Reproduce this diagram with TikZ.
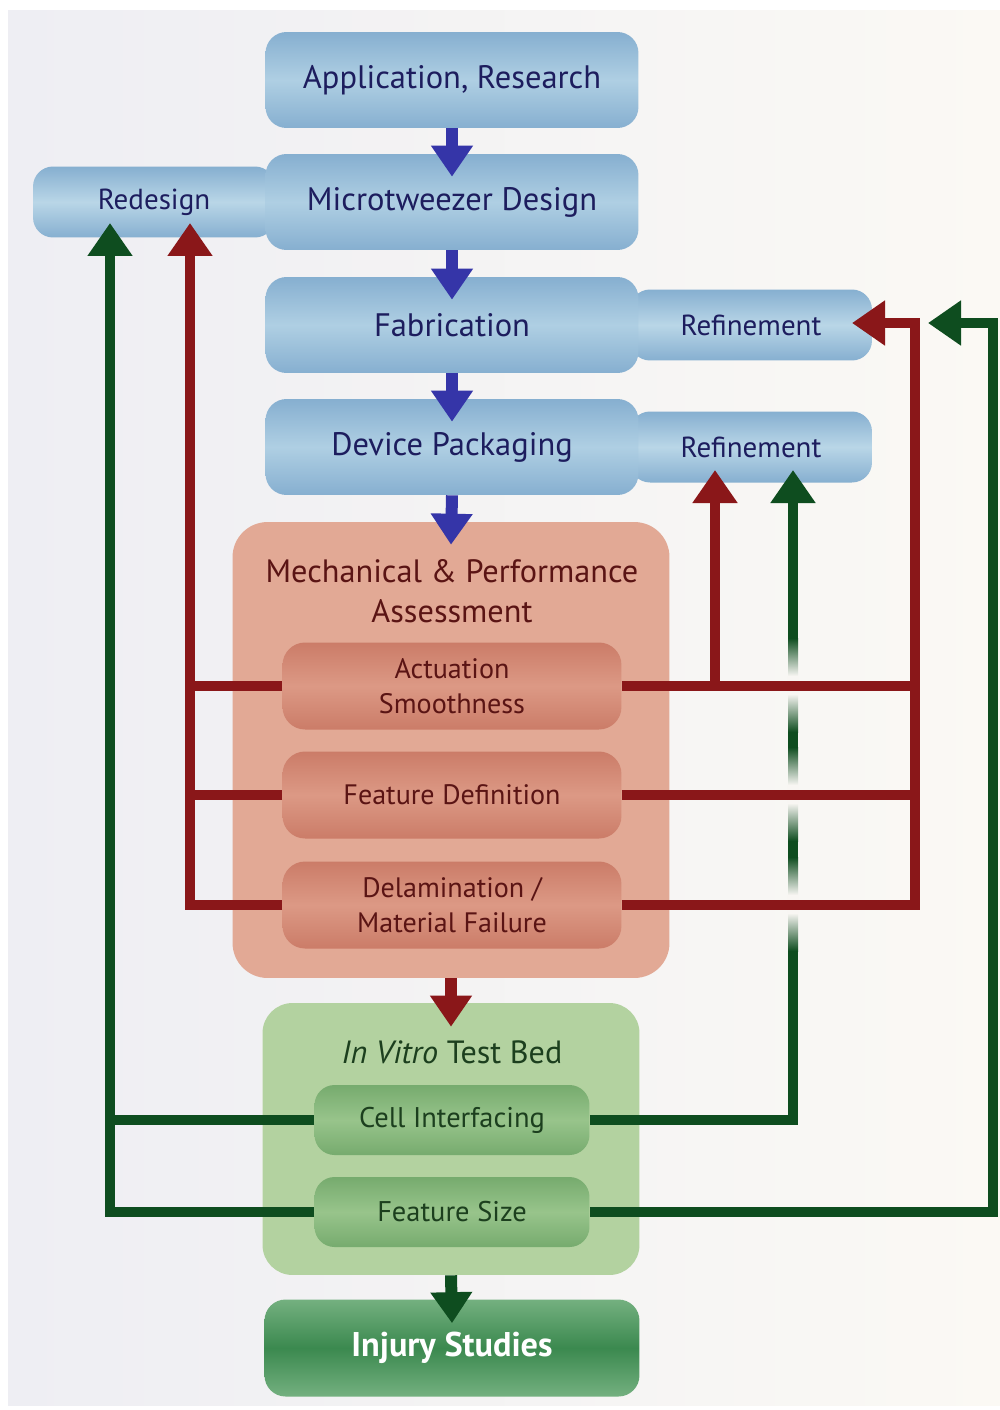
\documentclass[tikz,border=0pt]{standalone}
\usepackage{fontspec}
\setmainfont{PT Sans}
\usepackage{tikz}
\usetikzlibrary{arrows.meta,calc}
\definecolor{bgleft}{HTML}{EEEEF3}
\definecolor{bgright}{HTML}{FBF9F4}
\definecolor{bgmid}{HTML}{F8F6F3}
\definecolor{bluefill}{HTML}{AFCFE3}
\definecolor{blueedge}{HTML}{86AFD0}
\definecolor{sidefill}{HTML}{B9D6E7}
\definecolor{bluetext}{HTML}{1D1D5E}
\definecolor{bluearrow}{HTML}{3535A8}
\definecolor{orangefill}{HTML}{E2A995}
\definecolor{orangesub}{HTML}{DC9985}
\definecolor{orangeedge}{HTML}{CB7C68}
\definecolor{redtext}{HTML}{5A1414}
\definecolor{redline}{HTML}{8A1719}
\definecolor{greenfill}{HTML}{B3D2A0}
\definecolor{greensub}{HTML}{98C48B}
\definecolor{greenedge}{HTML}{76AB6E}
\definecolor{greentext}{HTML}{1C3F1E}
\definecolor{greenline}{HTML}{0E4D1F}
\definecolor{greendark}{HTML}{3B894F}
\definecolor{greenlight}{HTML}{74B07F}
\tikzset{
  stage/.style={rounded corners=0.42cm, minimum width=7.46cm, minimum height=1.92cm,
    top color=blueedge, bottom color=blueedge, middle color=bluefill,
    text=bluetext, font=\fontsize{18.5}{22}\selectfont},
  side/.style={rounded corners=0.4cm, minimum width=4.84cm, minimum height=1.42cm,
    top color=blueedge, bottom color=blueedge, middle color=sidefill,
    text=bluetext, font=\fontsize{16.5}{20}\selectfont},
  assess/.style={rounded corners=0.7cm, minimum width=8.74cm, minimum height=9.12cm,
    fill=orangefill},
  otitle/.style={text=redtext, align=center, font=\fontsize{18.4}{22.8}\selectfont},
  osub/.style={rounded corners=0.45cm, minimum width=6.78cm, minimum height=1.74cm,
    top color=orangeedge, bottom color=orangeedge, middle color=orangesub,
    text=redtext, align=center, font=\fontsize{16}{20}\selectfont},
  testbed/.style={rounded corners=0.6cm, minimum width=7.54cm, minimum height=5.44cm,
    fill=greenfill},
  gtitle/.style={text=greentext, font=\fontsize{18.3}{22}\selectfont},
  gsub/.style={rounded corners=0.4cm, minimum width=5.5cm, minimum height=1.4cm,
    top color=greenedge, bottom color=greenedge, middle color=greensub,
    text=greentext, font=\fontsize{16.2}{20}\selectfont},
  goal/.style={rounded corners=0.42cm, minimum width=7.5cm, minimum height=1.94cm,
    top color=greenlight, bottom color=greenlight, middle color=greendark,
    text=white, font=\fontsize{19.5}{23}\selectfont\bfseries},
  flow/.style={line width=0.24cm, -{Triangle[width=0.8cm, length=0.62cm]}},
  redfb/.style={draw=redline, line width=0.2cm},
  greenfb/.style={draw=greenline, line width=0.2cm},
  fbtip/.style={-{Triangle[width=0.86cm, length=0.66cm]}}
}

\begin{document}
\begin{tikzpicture}[x=0.02cm, y=-0.02cm]
  \useasboundingbox (0,0) rectangle (1000,1410);
  \fill[white] (0,0) rectangle (1000,1410);
  \shade[left color=bgleft, right color=bgright] (8,10) rectangle (1000,1405);

  % main chain
  \node[stage] (app) at (452,80) {Application, Research};
  \node[side] (redes) at (154,202) {Redesign};
  \node[stage] (des) at (452,202) {Microtweezer Design};
  \node[side] (ref1) at (751,325) {Refinement};
  \node[stage] (fab) at (452,325) {Fabrication};
  \node[side] (ref2) at (751,447) {Refinement};
  \node[stage] (pack) at (452,447) {Device Packaging};

  \node[assess] (mech) at (451,750) {};
  \node[otitle] (mtitle) at (452,591) {Mechanical \& Performance\\Assessment};
  \node[osub] (act) at (452,686) {Actuation\\Smoothness};
  \node[osub] (feat) at (452,795) {Feature Definition};
  \node[osub] (delam) at (452,905) {Delamination /\\Material Failure};

  \node[testbed] (vitro) at (451,1139) {};
  \node[gtitle] (vtitle) at (452,1052) {\textit{In Vitro} Test Bed};
  \node[gsub] (cell) at (452,1120) {Cell Interfacing};
  \node[gsub] (fsize) at (452,1212) {Feature Size};

  \node[goal] (injury) at (452,1348) {Injury Studies};

  % downward arrows
  \draw[flow, bluearrow] (app.south) -- ($(des.north)+(0,23)$);
  \draw[flow, bluearrow] (des.south) -- ($(fab.north)+(0,23)$);
  \draw[flow, bluearrow] (fab.south) -- ($(pack.north)+(0,23)$);
  \draw[flow, bluearrow] (pack.south) -- ($(mech.north)+(0,23)$);
  \draw[flow, redline] (mech.south) -- ($(vitro.north)+(0,24)$);
  \draw[flow, greenline] (vitro.south) -- ($(injury.north)+(0,24)$);

  \coordinate (redtip) at (190,223);
  \coordinate (greentip) at (110,223);
  \coordinate (redR) at (915,323);
  \coordinate (greenR) at (993,323);
  \coordinate (ref1rtip) at (852,323);
  \coordinate (ref1gtip) at (928,323);
  \coordinate (ref2rtip) at (715,470);
  \coordinate (ref2gtip) at (793,470);

  % green feedback
  \draw[greenfb, fbtip] (fsize.west) -| (greentip);
  \draw[greenfb] (cell.west) -- (cell.west -| greentip);
  \draw[greenfb, fbtip] (cell.east) -| (ref2gtip);
  \draw[greenfb, fbtip] (fsize.east) -| (greenR) -- (ref1gtip);

  % gaps where the red lines pass
  \foreach \cy in {686,795,905}{
    \shade[top color=greenline, bottom color=bgmid] (788,\cy-48) rectangle (798,\cy-10);
    \fill[bgmid] (787,\cy-10) rectangle (799,\cy+8);
    \shade[top color=bgmid, bottom color=greenline] (788,\cy+8) rectangle (798,\cy+46);
  }

  % red feedback
  \draw[redfb, fbtip] (delam.west) -| (redtip);
  \draw[redfb] (act.west) -- (act.west -| redtip);
  \draw[redfb] (feat.west) -- (feat.west -| redtip);
  \draw[redfb, fbtip] (delam.east) -| (redR) -- (ref1rtip);
  \draw[redfb] (act.east) -- (act.east -| redR);
  \draw[redfb] (feat.east) -- (feat.east -| redR);
  \draw[redfb, fbtip] (act.east -| ref2rtip) -- (ref2rtip);
\end{tikzpicture}
\end{document}
